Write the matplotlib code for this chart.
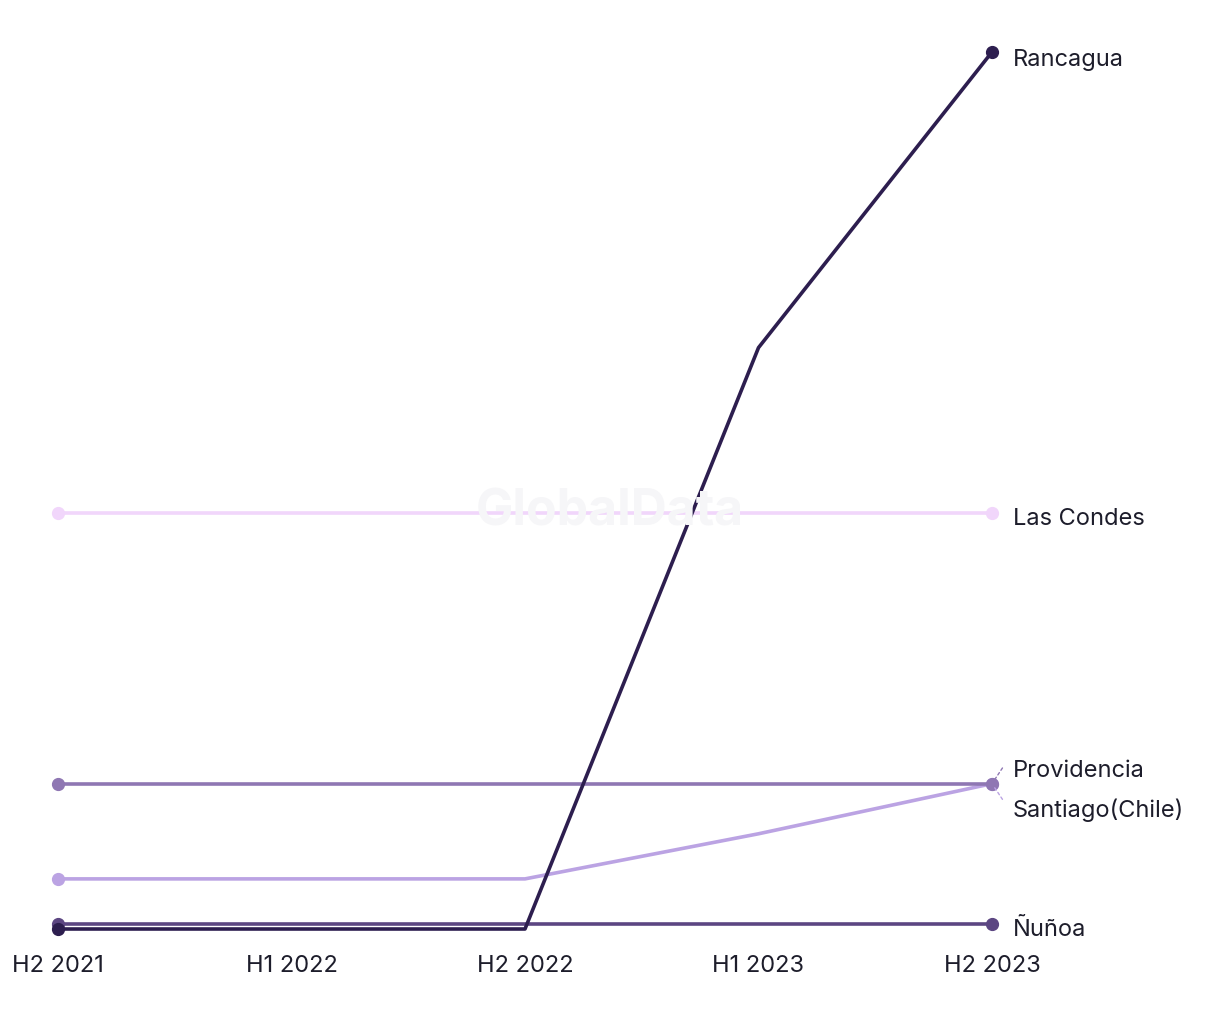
import matplotlib.pyplot as plt

periods = ["H2 2021", "H1 2022", "H2 2022", "H1 2023", "H2 2023"]
rancagua = [0, 0, 0, 116, 175]
las_condes = [83, 83, 83, 83, 83]
providencia = [29, 29, 29, 29, 29]
santiago = [10, 10, 10, 19, 29]
nunoa = [1, 1, 1, 1, 1]

series = [
    ("Las Condes", las_condes, "#f1d6fb"),
    ("Santiago(Chile)", santiago, "#bba3e3"),
    ("Providencia", providencia, "#8f77b3"),
    ("Ñuñoa", nunoa, "#5c4682"),
    ("Rancagua", rancagua, "#2d1e4f"),
]

plt.rcParams['font.family'] = ['Inter', 'DejaVu Sans']

fig = plt.figure(figsize=(12.2, 10.2), dpi=100)
ax = fig.add_axes([58 / 1220, 90 / 1020, (992 - 58) / 1220, (930 - 53) / 1020])

x = list(range(len(periods)))
for name, vals, color in series:
    ax.plot(x, vals, color=color, lw=2.6, marker="o", markersize=8.5,
            markevery=[0, len(vals) - 1], clip_on=False, solid_capstyle="butt")

ax.set_xlim(0, 4)
ax.set_ylim(0, 175)
ax.set_xticks(x)
ax.set_xticklabels(periods, fontsize=17, color="#1d1d2b")
ax.tick_params(axis="x", length=0, pad=18)
ax.set_yticks([])
for s in ax.spines.values():
    s.set_visible(False)

# end labels
label_kw = dict(fontsize=17, color="#1d1d2b", va="center", ha="left")
ax.annotate("Rancagua", (4, rancagua[-1]), xytext=(21, -7), textcoords="offset pixels", **label_kw)
ax.annotate("Las Condes", (4, las_condes[-1]), xytext=(21, -5), textcoords="offset pixels", **label_kw)
ax.annotate("Ñuñoa", (4, nunoa[-1]), xytext=(21, -5), textcoords="offset pixels", **label_kw)
ax.annotate("Providencia", (4, providencia[-1]), xytext=(21, 14), textcoords="offset pixels", **label_kw)
ax.annotate("Santiago(Chile)", (4, santiago[-1]), xytext=(21, -26), textcoords="offset pixels", **label_kw)
ax.annotate("", (4, providencia[-1]), xytext=(12, 18), textcoords="offset pixels",
            arrowprops=dict(arrowstyle="-", color="#8f77b3", lw=1, ls=(0, (2, 2))))
ax.annotate("", (4, santiago[-1]), xytext=(12, -18), textcoords="offset pixels",
            arrowprops=dict(arrowstyle="-", color="#bba3e3", lw=1, ls=(0, (2, 2))))

fig.text(610 / 1220, 1 - 512 / 1020, "GlobalData", fontsize=36, fontweight="bold",
         color="#f6f6f8", ha="center", va="center", zorder=0)

fig.savefig("out.png", dpi=100, facecolor="white")
